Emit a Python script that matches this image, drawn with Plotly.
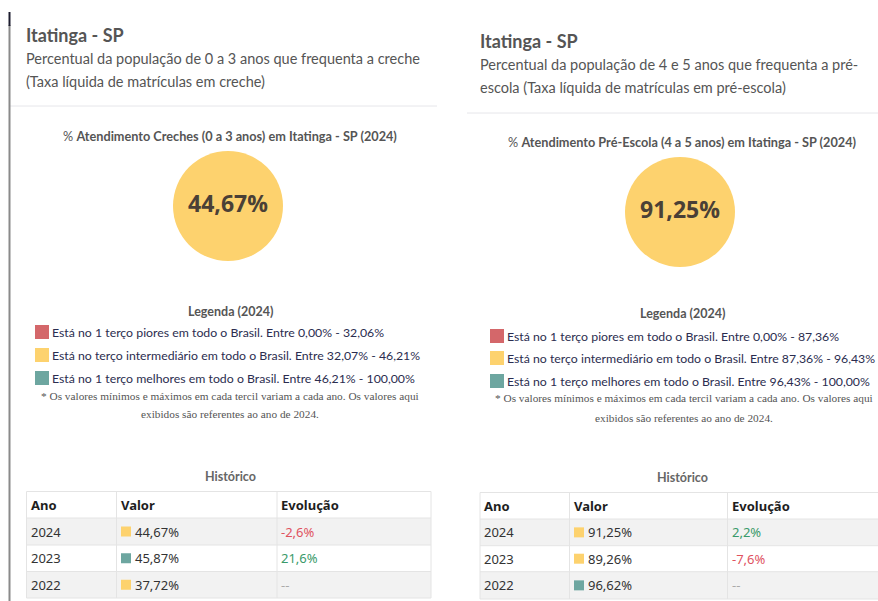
import plotly.graph_objects as go

W, H = 878, 601

# ---------------- data ----------------
city = "Itatinga - SP"
ref_year = 2024

creche_years = [2024, 2023, 2022]
creche_values = [44.67, 45.87, 37.72]
creche_tercile = [1, 2, 1]          # 0 = piores, 1 = intermediário, 2 = melhores
creche_bounds = ["0,00% - 32,06%", "32,07% - 46,21%", "46,21% - 100,00%"]

pre_years = [2024, 2023, 2022]
pre_values = [91.25, 89.26, 96.62]
pre_tercile = [1, 1, 2]
pre_bounds = ["0,00% - 87,36%", "87,36% - 96,43%", "96,43% - 100,00%"]

tercile_colors = ["#D4676A", "#FDD26E", "#6DA6A0"]
tercile_labels = ["Está no 1 terço piores em todo o Brasil. Entre ",
                  "Está no terço intermediário em todo o Brasil. Entre ",
                  "Está no 1 terço melhores em todo o Brasil. Entre "]
table_header = ["Ano", "Valor", "Evolução"]

SANS = "Lato"
TAB = "Noto Sans"
SERIF = "Liberation Serif"
GRID = "#E4E4E4"


def fmt(v, d=2):
    return f"{v:.{d}f}".replace(".", ",")


fig = go.Figure()
annotations = []
shapes = []


def text(x, y, s, size, color, family=SANS, anchor="left"):
    annotations.append(dict(x=x, y=y, xref="x", yref="y", text=s,
                            showarrow=False, xanchor=anchor, yanchor="middle",
                            borderpad=0, font=dict(size=size, color=color, family=family)))


def hline(x0, x1, y, color=GRID):
    shapes.append(dict(type="line", xref="x", yref="y", x0=x0, x1=x1, y0=y, y1=y,
                       line=dict(color=color, width=1)))


def vline(x, y0, y1, color=GRID, width=1):
    shapes.append(dict(type="line", xref="x", yref="y", x0=x, x1=x, y0=y0, y1=y1,
                       line=dict(color=color, width=width)))


def panel(lay, years, values, terciles, bounds, sub1, sub2, heading):
    x0 = lay["x0"]
    cx = lay["cx"]
    yo = lay["yo"]
    # header
    text(x0 - 1, 35 + yo, f"<b>{city}</b>", 18, "#555555")
    text(x0 - 1, 58 + yo, sub1, 14.5, "#555555")
    text(x0 - 1, 81 + yo, sub2, 14.5, "#555555")
    hline(lay["div"][0], lay["div"][1], 106 + yo + lay["divy"], "#E6E6EA")
    text(cx, 136 + yo, heading, 12.7, "#555555", anchor="center")
    # circle value
    fig.add_trace(go.Scatter(x=[cx - 2], y=[206 + yo], mode="markers+text",
                             marker=dict(size=110, color=tercile_colors[terciles[0]],
                                         line=dict(width=0)),
                             text=[f"<b>{fmt(values[0])}%</b>"], textposition="middle center",
                             textfont=dict(size=23, color="#4A4036", family="Open Sans"),
                             hoverinfo="skip", showlegend=False))
    # legend
    text(cx, lay["leg_t"], f"<b>Legenda ({ref_year})</b>", 12.5, "#555555", anchor="center")
    sqx = lay["sqx"]
    for i in range(3):
        yy = lay["leg_y"][i]
        fig.add_trace(go.Scatter(x=[sqx], y=[yy], mode="markers",
                                 marker=dict(symbol="square", size=14, color=tercile_colors[i],
                                             line=dict(width=0)),
                                 hoverinfo="skip", showlegend=False))
        text(sqx + 9, yy, tercile_labels[i] + bounds[i], 12.3, "#2B2D4F")
    text(lay["note_x"], lay["note_y"][0],
         "* Os valores mínimos e máximos em cada tercil variam a cada ano. Os valores aqui",
         11.3, "#555555", family=SERIF, anchor="center")
    text(lay["note_x"], lay["note_y"][1], f"exibidos são referentes ao ano de {ref_year}.",
         11.3, "#555555", family=SERIF, anchor="center")
    # history table
    text(cx, lay["hist_y"], "<b>Histórico</b>", 12.5, "#666666", anchor="center")
    cols = lay["cols"]          # column boundaries
    rows = lay["rows"]          # row boundaries (header + data rows)
    fills = ["#FFFFFF", "#F2F2F2", "#FFFFFF", "#F2F2F2"]
    for r in range(len(rows) - 1):
        shapes.append(dict(type="rect", xref="x", yref="y", layer="below",
                           x0=cols[0], x1=cols[-1], y0=rows[r], y1=rows[r + 1],
                           fillcolor=fills[r], line=dict(width=0)))
    for yb in rows:
        hline(cols[0], cols[-1], yb)
    for xb in cols:
        vline(xb, rows[0], rows[-1])
    mid = [(rows[r] + rows[r + 1]) / 2 for r in range(len(rows) - 1)]
    for c, h in enumerate(table_header):
        text(cols[c] + 3, mid[0], f"<b>{h}</b>", 13, "#1E1E1E", family=TAB)
    evo, evo_col = [], []
    for k in range(len(values)):
        if k + 1 < len(values):
            ch = (values[k] - values[k + 1]) / values[k + 1] * 100
            evo.append(f"{fmt(ch, 1)}%")
            evo_col.append("#3A9A6A" if ch >= 0 else "#E0525F")
        else:
            evo.append("--")
            evo_col.append("#AAAAAA")
    for r in range(len(values)):
        ym = mid[r + 1]
        text(cols[0] + 3, ym, str(years[r]), 13, "#333333", family=TAB)
        text(cols[1] + 17, ym, f"{fmt(values[r])}%", 13, "#333333", family=TAB)
        text(cols[2] + 3, ym, evo[r], 13, evo_col[r], family=TAB)
    fig.add_trace(go.Scatter(
        x=[cols[1] + 9.5] * len(values), y=mid[1:], mode="markers",
        marker=dict(symbol="square", size=10, color=[tercile_colors[t] for t in terciles],
                    line=dict(width=0)),
        hoverinfo="skip", showlegend=False))


left_layout = dict(x0=26, cx=230, yo=0, div=(10, 437), divy=0,
                   leg_t=311, leg_y=[332, 355, 378], sqx=42, note_x=230, note_y=[396, 414],
                   hist_y=476, cols=[26.5, 116.5, 277, 431],
                   rows=[491.5, 518, 545, 571.5, 598])
right_layout = dict(x0=480, cx=682, yo=6, div=(467, 878), divy=1,
                    leg_t=313, leg_y=[336, 358, 381], sqx=497, note_x=684, note_y=[398, 418],
                    hist_y=477, cols=[480, 569.5, 727.5, 900],
                    rows=[492.5, 519, 545.7, 571.7, 599])

panel(left_layout, creche_years, creche_values, creche_tercile, creche_bounds,
      "Percentual da população de 0 a 3 anos que frequenta a creche",
      "(Taxa líquida de matrículas em creche)",
      f"% <b>Atendimento Creches (0 a 3 anos) em {city} ({ref_year})</b>")

panel(right_layout, pre_years, pre_values, pre_tercile, pre_bounds,
      "Percentual da população de 4 e 5 anos que frequenta a pré-",
      "escola (Taxa líquida de matrículas em pré-escola)",
      f"% <b>Atendimento Pré-Escola (4 a 5 anos) em {city} ({ref_year})</b>")

# left vertical border
vline(9.5, 25, H + 5, "#8A8A8A", 2)
vline(9.5, 12, 26, "#1C1C2E", 2)

fig.update_layout(
    width=W, height=H, margin=dict(l=0, r=0, t=0, b=0),
    paper_bgcolor="white", plot_bgcolor="rgba(0,0,0,0)",
    xaxis=dict(range=[0, W], visible=False, fixedrange=True),
    yaxis=dict(range=[H, 0], visible=False, fixedrange=True),
    annotations=annotations, shapes=shapes, showlegend=False,
)

fig.write_html("out.html", config={"displayModeBar": False},
               post_script="document.body.style.margin='0';")
